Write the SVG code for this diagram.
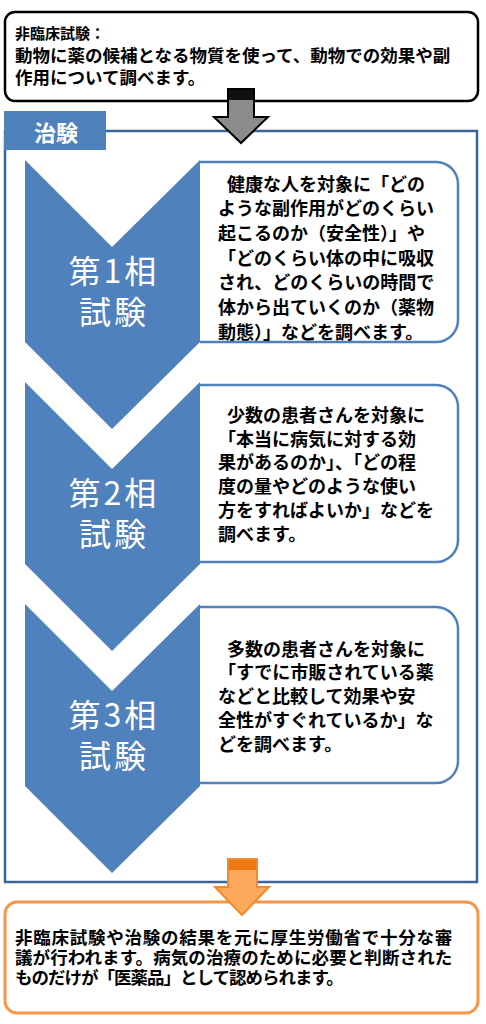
<svg xmlns="http://www.w3.org/2000/svg" width="486" height="1024" viewBox="0 0 486 1024">
<style>
.jp{font-family:"Noto Sans CJK JP","Noto Sans",sans-serif;}
.b{font-weight:bold;fill:#000;}
.t17{font-size:17.5px;}
.t18{font-size:18px;}
.lbl{font-size:32px;fill:#fff;font-weight:normal;letter-spacing:3px;}
.chev{fill:#4f81bd;}
.tbox{fill:#fff;stroke:#4f81bd;stroke-width:2.5;}
</style>
<rect width="486" height="1024" fill="#fff"/>
<g id="nonclinical">
<rect x="5" y="12" width="473" height="89" rx="10" fill="#fff" stroke="#000" stroke-width="2.5"/>
<text class="jp b t17"><tspan x="15" y="39" font-size="15">非臨床試験：</tspan><tspan x="15" y="62">動物に薬の候補となる物質を使って、動物での効果や副</tspan><tspan x="15" y="83.5">作用について調べます。</tspan></text>
</g>
<g id="chiken">
<rect x="5" y="131" width="472" height="751" fill="none" stroke="#3c659c" stroke-width="2.5"/>
<rect x="4" y="111" width="102" height="39" fill="#4f81bd"/>
<text class="jp" x="56" y="141" font-size="22" font-weight="bold" fill="#fff" text-anchor="middle">治験</text>
</g>
<g id="phase1">
<path class="tbox" d="M200,162 H436 A22,22 0 0 1 458,184 V320 A22,22 0 0 1 436,342 H200"/>
<path class="chev" d="M25,160 L112,247 L200,160 L200,342 L112,429 L25,342 Z"/>
<text class="jp lbl" text-anchor="middle"><tspan x="114" y="283">第1相</tspan><tspan x="114" y="324">試験</tspan></text>
<text class="jp b t18"><tspan x="227" y="190.5">健康な人を対象に「どの</tspan><tspan x="218" y="215.2">ような副作用がどのくらい</tspan><tspan x="218" y="239.8">起こるのか（安全性）」や</tspan><tspan x="218" y="264.5">「どのくらい体の中に吸収</tspan><tspan x="218" y="289.2">され、どのくらいの時間で</tspan><tspan x="218" y="313.8">体から出ていくのか（薬物</tspan><tspan x="218" y="338.5">動態）」などを調べます。</tspan></text>
</g>
<g id="phase2">
<path class="tbox" d="M200,385 H436 A22,22 0 0 1 458,407 V540 A22,22 0 0 1 436,562 H200"/>
<path class="chev" d="M25,382 L112,469 L200,382 L200,564 L112,651 L25,564 Z"/>
<text class="jp lbl" text-anchor="middle"><tspan x="114" y="505">第2相</tspan><tspan x="114" y="546">試験</tspan></text>
<text class="jp b t18"><tspan x="227" y="422">少数の患者さんを対象に</tspan><tspan x="218" y="445.7">「本当に病気に対する効</tspan><tspan x="218" y="469.4">果があるのか」、「どの程</tspan><tspan x="218" y="493.1">度の量やどのような使い</tspan><tspan x="218" y="516.8">方をすればよいか」などを</tspan><tspan x="218" y="540.5">調べます。</tspan></text>
</g>
<g id="phase3">
<path class="tbox" d="M200,607 H436 A22,22 0 0 1 458,629 V761 A22,22 0 0 1 436,783 H200"/>
<path class="chev" d="M25,604 L112,691 L200,604 L200,786 L112,873 L25,786 Z"/>
<text class="jp lbl" text-anchor="middle"><tspan x="114" y="727">第3相</tspan><tspan x="114" y="768">試験</tspan></text>
<text class="jp b t18"><tspan x="227" y="655.5">多数の患者さんを対象に</tspan><tspan x="218" y="679.2">「すでに市販されている薬</tspan><tspan x="218" y="703">などと比較して効果や安</tspan><tspan x="218" y="726.8">全性がすぐれているか」な</tspan><tspan x="218" y="750.5">どを調べます。</tspan></text>
</g>
<g id="approval">
<rect x="5" y="902" width="473" height="111" rx="12" fill="#fff" stroke="#f79646" stroke-width="3"/>
<text class="jp b t17"><tspan x="15" y="944" letter-spacing="0.75">非臨床試験や治験の結果を元に厚生労働省で十分な審</tspan><tspan x="15" y="964" letter-spacing="0.1">議が行われます。病気の治療のために必要と判断された</tspan><tspan x="15" y="984" letter-spacing="-1">ものだけが「医薬品」として認められます。</tspan></text>
</g>
<g id="connectors">
<polygon points="228,89 254,89 254,117 268,117 241,143 214,117 228,117" fill="#8c8c8c" stroke="#000" stroke-width="2" stroke-linejoin="miter"/>
<rect x="229" y="90" width="24" height="10" fill="#111"/>
<polygon points="228,859 257,859 257,887 269,887 242,915 215,887 228,887" fill="#fba85a" stroke="#f08a2c" stroke-width="2"/>
<rect x="229" y="860" width="27" height="10" fill="#f07a12"/>
</g>
</svg>
